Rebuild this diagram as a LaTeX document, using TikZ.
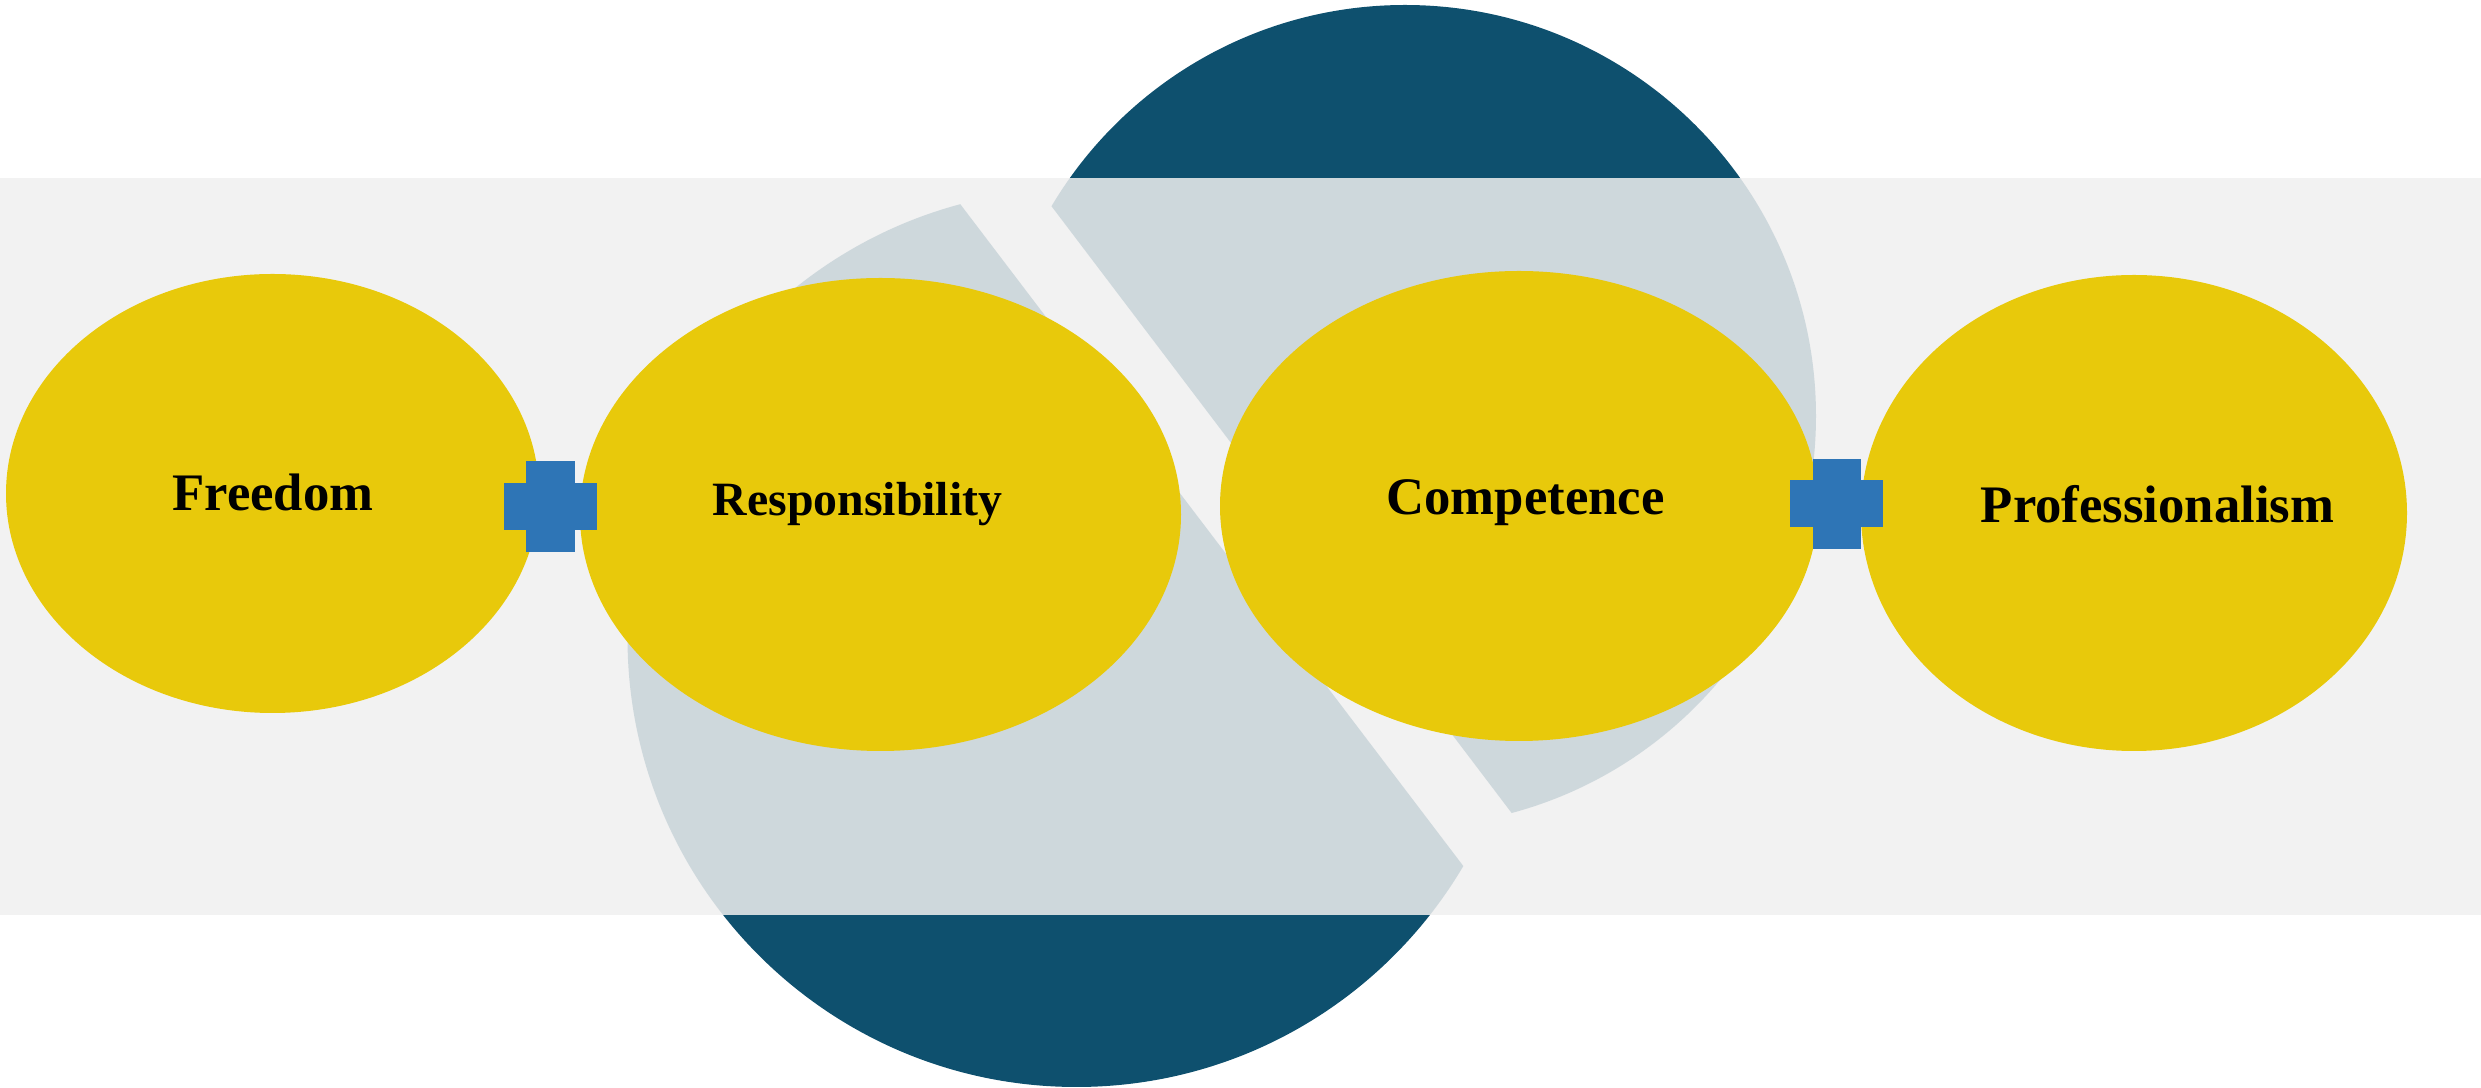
\documentclass[tikz,border=0pt]{standalone}
\usepackage{fontspec}
\setmainfont{Liberation Serif}
\usetikzlibrary{shapes.geometric}
\definecolor{bandgray}{RGB}{240,240,240}
\definecolor{diskblue}{RGB}{14,80,110}
\definecolor{ovalyellow}{RGB}{232,201,11}
\definecolor{plusblue}{RGB}{46,117,182}
\tikzset{
  oval/.style={ellipse, fill=ovalyellow, inner sep=0pt},
  plusbar/.style={rectangle, fill=plusblue, inner sep=0pt},
  ovaltext/.style={font=\bfseries\fontsize{15}{18}\selectfont, anchor=base, inner sep=0pt}
}

\begin{document}
\begin{tikzpicture}
  \useasboundingbox (0,0) rectangle (24.81,10.88);

  % Discos partidos
  \begin{scope}
    \clip (0,-1) -- (17.08,-1) -- (7.96,11) -- (0,11) -- cycle;
    \fill[diskblue] (10.765,4.50) circle (4.49);
  \end{scope}
  \begin{scope}
    \clip (8.86,11) -- (25,11) -- (25,-1) -- (17.96,-1) -- cycle;
    \fill[diskblue] (14.05,6.72) circle (4.11);
  \end{scope}

  % Banda
  \fill[bandgray, fill opacity=0.85] (0,1.73) rectangle (24.81,9.10);

  % Elipses
  \node[oval, minimum width=5.33cm, minimum height=4.39cm] (freedom) at (2.725,5.945) {};
  \node[oval, minimum width=6.01cm, minimum height=4.73cm] (resp) at (8.805,5.735) {};
  \node[oval, minimum width=5.98cm, minimum height=4.70cm] (comp) at (15.19,5.82) {};
  \node[oval, minimum width=5.46cm, minimum height=4.76cm] (prof) at (21.34,5.75) {};

  % Signos +
  \node[plusbar, minimum width=0.49cm, minimum height=0.91cm] (plusAv) at (5.505,5.815) {};
  \node[plusbar, minimum width=0.93cm, minimum height=0.47cm] (plusAh) at (plusAv) {};
  \node[plusbar, minimum width=0.48cm, minimum height=0.90cm] (plusBv) at (18.365,5.84) {};
  \node[plusbar, minimum width=0.93cm, minimum height=0.47cm] (plusBh) at (plusBv) {};

  % Textos
  \node[ovaltext] (freedomtxt) at (2.73,5.77) {Freedom};
  \node[ovaltext, font=\bfseries\fontsize{13.6}{16}\selectfont] (resptxt) at (8.575,5.72) {Responsibility};
  \node[ovaltext] (comptxt) at (15.255,5.73) {Competence};
  \node[ovaltext] (proftxt) at (21.575,5.65) {Professionalism};
\end{tikzpicture}
\end{document}
